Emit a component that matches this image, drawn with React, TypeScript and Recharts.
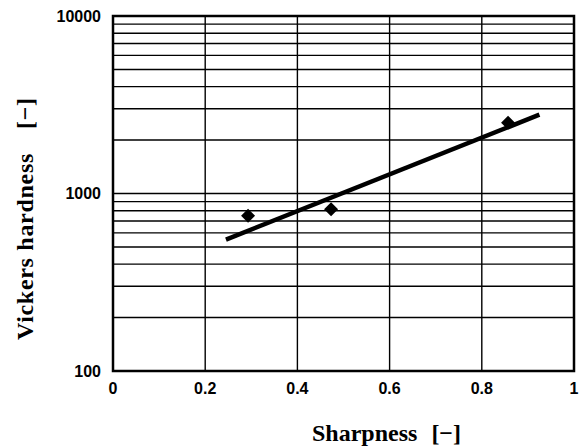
import {
  CartesianGrid,
  ComposedChart,
  Label,
  Line,
  ReferenceArea,
  ReferenceLine,
  Scatter,
  XAxis,
  YAxis,
} from 'recharts';

const xTicks = [0, 0.2, 0.4, 0.6, 0.8, 1];
const yTicks = [100, 1000, 10000];
const xGrid = [0.2, 0.4, 0.6, 0.8];
const yGrid = [200, 300, 400, 500, 600, 700, 800, 900, 1000, 2000, 3000, 4000, 5000, 6000, 7000, 8000, 9000];

const sharpness = [0.293, 0.473, 0.857];
const hardness = [750, 815, 2500];

const fitSharpness = [0.245, 0.925];
const fitHardness = [550, 2780];

const points = sharpness.map((x, i) => ({ x, y: hardness[i] }));
const fit = fitSharpness.map((x, i) => ({ x, y: fitHardness[i] }));

const tickStyle = { fontFamily: 'Liberation Sans, Arial, sans-serif', fontWeight: 700, fontSize: 16, fill: '#000' };
const titleFont = 'Liberation Serif, Times New Roman, serif';

function Diamond(props: any) {
  const { cx, cy } = props;
  const r = 7;
  return <polygon points={`${cx},${cy - r} ${cx + r},${cy} ${cx},${cy + r} ${cx - r},${cy}`} fill="#000" />;
}

export default function App() {
  return (
    <div style={{ position: 'absolute', left: 0, top: 0, background: '#fff' }}>
      <ComposedChart width={582} height={448} margin={{ top: 16, right: 8, bottom: 0, left: 0 }}>
        <CartesianGrid stroke="#000" strokeWidth={1.4} horizontal={false} verticalValues={xGrid} />
        <XAxis
          type="number"
          dataKey="x"
          domain={[0, 1]}
          ticks={xTicks}
          tickFormatter={(v) => String(v)}
          height={77}
          tickLine={false}
          tickSize={0}
          axisLine={false}
          tickMargin={12}
          tick={tickStyle}
          allowDataOverflow
        >
          <Label
            content={() => (
              <text x={312} y={441} textAnchor="start" fontFamily={titleFont} fontSize={24} fontWeight={700} fill="#000">
                Sharpness<tspan dx={14}>[−]</tspan>
              </text>
            )}
          />
        </XAxis>
        <YAxis
          type="number"
          dataKey="y"
          scale="log"
          domain={[100, 10000]}
          ticks={yTicks}
          width={113}
          tickLine={false}
          tickSize={0}
          axisLine={false}
          tickMargin={12}
          tick={tickStyle}
          allowDataOverflow
        >
          <Label
            content={() => (
              <text
                x={33}
                y={340}
                transform="rotate(-90 33 340)"
                textAnchor="start"
                fontFamily={titleFont}
                fontSize={24}
                fontWeight={700}
                letterSpacing={0.7}
                fill="#000"
              >
                Vickers hardness<tspan dx={24}>[−]</tspan>
              </text>
            )}
          />
        </YAxis>
        {yGrid.map((v) => (
          <ReferenceLine key={v} y={v} stroke="#000" strokeWidth={1.4} />
        ))}
        <ReferenceArea
          x1={0}
          x2={1}
          y1={100}
          y2={10000}
          fill="none"
          fillOpacity={0}
          stroke="#000"
          strokeWidth={2.5}
          ifOverflow="visible"
        />
        <Line
          data={fit}
          dataKey="y"
          type="linear"
          stroke="#000"
          strokeWidth={4.5}
          dot={false}
          isAnimationActive={false}
        />
        <Scatter data={points} dataKey="y" fill="#000" shape={Diamond} isAnimationActive={false} />
      </ComposedChart>
    </div>
  );
}
